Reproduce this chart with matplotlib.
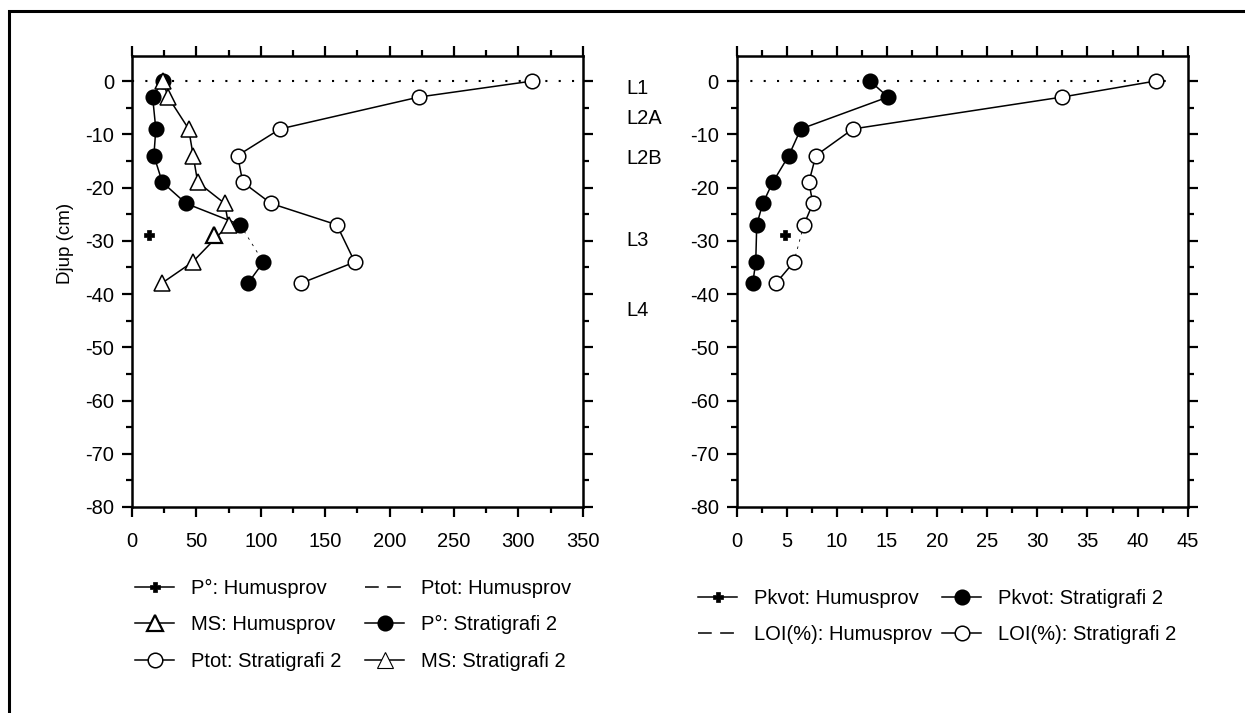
import numpy as np
import matplotlib
matplotlib.use('Agg')
import matplotlib.pyplot as plt
from matplotlib.patches import Rectangle
from matplotlib.ticker import MultipleLocator

plt.rcParams['font.family'] = ['Liberation Sans', 'DejaVu Sans']
plt.rcParams['axes.unicode_minus'] = False

# djup for Stratigrafi 2 (cm)
djup = np.array([0, -3, -9, -14, -19, -23, -27, -34, -38])
# humusprovets djup
djup_humus = np.array([-29])

# vänster diagram
p_strat = np.array([24, 16, 18.5, 17, 23.5, 42, 84, 102, 90])
ptot_strat = np.array([311, 223, 115, 82, 86, 108, 159, 173, 131])
ms_strat = np.array([24, 28, 44, 47.5, 51, 72, 75, 47, 23])
p_humus = np.array([13.4])
ptot_humus = np.array([np.nan])
ms_humus = np.array([64])

# höger diagram
pkvot_strat = np.array([13.3, 15.1, 6.4, 5.2, 3.6, 2.6, 2.0, 1.9, 1.6])
loi_strat = np.array([41.8, 32.5, 11.6, 7.9, 7.2, 7.6, 6.7, 5.7, 3.9])
pkvot_humus = np.array([4.8])
loi_humus = np.array([np.nan])

lager = ['L1', 'L2A', 'L2B', 'L3', 'L4']
lager_y = [88, 118, 159, 240, 311]

W, H = 1245, 713
fig = plt.figure(figsize=(W / 100, H / 100), dpi=100)

# ram runt figuren
fig.patches.append(Rectangle((9 / W, -0.1), 1.2, 1 - 11 / H + 0.1, transform=fig.transFigure,
                             fill=False, lw=2.2, ec='black', clip_on=False))

ax1 = fig.add_axes([132 / W, 1 - 507 / H, 450.7 / W, 451 / H])
ax2 = fig.add_axes([736.7 / W, 1 - 507 / H, 451 / W, 451 / H])

lw = 1.1
ms_c = 10.5
mew = 1.1


def strat_line(ax, x, y, broken, marker, face, ms):
    # linje, ev. streckad mellan -27 och -34
    if broken:
        ax.plot(x[:7], y[:7], '-', color='black', lw=lw, zorder=2)
        ax.plot(x[7:], y[7:], '-', color='black', lw=lw, zorder=2)
        ax.plot(x[6:8], y[6:8], '--', color='black', lw=0.6, dashes=(3, 6), zorder=2)
    else:
        ax.plot(x, y, '-', color='black', lw=lw, zorder=2)
    ax.plot(x, y, linestyle='none', marker=marker, ms=ms, mfc=face, mec='black', mew=mew, zorder=3)


for ax in (ax1, ax2):
    ax.set_ylim(-80, 4.7)
    ax.yaxis.set_major_locator(MultipleLocator(10))
    ax.yaxis.set_minor_locator(MultipleLocator(5))
    ax.tick_params(which='both', direction='out', top=True, right=True, width=1.6,
                   labelsize=14.5)
    ax.tick_params(which='major', length=7, pad=6)
    ax.tick_params(axis='x', which='major', pad=11)
    ax.tick_params(which='minor', length=4)
    for s in ax.spines.values():
        s.set_linewidth(1.8)

ax1.set_xlim(0, 350)
ax1.xaxis.set_major_locator(MultipleLocator(50))
ax1.xaxis.set_minor_locator(MultipleLocator(25))
ax2.set_xlim(0, 45)
ax2.xaxis.set_major_locator(MultipleLocator(5))
ax2.xaxis.set_minor_locator(MultipleLocator(2.5))

ax1.hlines(0, 0, 345, colors='black', lw=1.5, linestyles=(0, (1, 5.4)), zorder=1)
ax2.hlines(0, 0, 43.5, colors='black', lw=1.5, linestyles=(0, (1, 5.4)), zorder=1)

# vänster
strat_line(ax1, ptot_strat, djup, False, 'o', 'white', ms_c)
strat_line(ax1, p_strat, djup, True, 'o', 'black', ms_c)
strat_line(ax1, ms_strat, djup, False, '^', 'white', 11)
h_ph, = ax1.plot(p_humus, djup_humus, '-', marker='P', color='black', ms=7, mew=0.5, lw=lw)
h_pth, = ax1.plot(ptot_humus, djup_humus, '--', color='black', lw=lw, dashes=(9, 5.5))
h_msh, = ax1.plot(ms_humus, djup_humus, '-', marker='^', color='black', ms=11, mfc='white',
                  mew=1.6, lw=lw)
h_pts, = ax1.plot([], [], '-', marker='o', color='black', mfc='white', ms=ms_c, mew=mew, lw=lw)
h_ps, = ax1.plot([], [], '-', marker='o', color='black', mfc='black', ms=ms_c, mew=mew, lw=lw)
h_mss, = ax1.plot([], [], '-', marker='^', color='black', mfc='white', ms=11, mew=0.8, lw=lw)

# höger
strat_line(ax2, loi_strat, djup, True, 'o', 'white', ms_c)
strat_line(ax2, pkvot_strat, djup, False, 'o', 'black', ms_c)
h_kh, = ax2.plot(pkvot_humus, djup_humus, '-', marker='P', color='black', ms=7, mew=0.5, lw=lw)
h_lh, = ax2.plot(loi_humus, djup_humus, '--', color='black', lw=lw, dashes=(9, 5.5))
h_ks, = ax2.plot([], [], '-', marker='o', color='black', mfc='black', ms=ms_c, mew=mew, lw=lw)
h_ls, = ax2.plot([], [], '-', marker='o', color='black', mfc='white', ms=ms_c, mew=mew, lw=lw)

fig.text(66 / W, 1 - 243 / H, 'Djup (cm)', rotation=90, ha='center', va='center', fontsize=13.5)

for namn, yy in zip(lager, lager_y):
    fig.text(626 / W, 1 - yy / H, namn, ha='left', va='center', fontsize=14.5)

leg_kw = dict(frameon=False, fontsize=14.5, handlelength=1.95, handletextpad=0.85,
              borderpad=0, borderaxespad=0, labelspacing=0.86, loc='upper left')

# en legend per kolumn
legender = [
    ([h_ph, h_msh, h_pts], ['P°: Humusprov', 'MS: Humusprov', 'Ptot: Stratigrafi 2'], 135, 579),
    ([h_pth, h_ps, h_mss], ['Ptot: Humusprov', 'P°: Stratigrafi 2', 'MS: Stratigrafi 2'], 365, 579),
    ([h_kh, h_lh], ['Pkvot: Humusprov', 'LOI(%): Humusprov'], 698, 589),
    ([h_ks, h_ls], ['Pkvot: Stratigrafi 2', 'LOI(%): Stratigrafi 2'], 942, 589),
]
for handles, labels, lx, ly in legender:
    fig.legend(handles, labels, bbox_to_anchor=(lx / W, 1 - ly / H), **leg_kw)

fig.savefig('out.png', dpi=100)
